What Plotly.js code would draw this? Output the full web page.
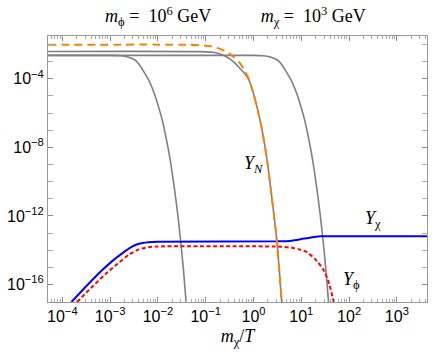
<!DOCTYPE html>
<html>
<head>
<meta charset="utf-8">
<script src="https://cdn.plot.ly/plotly-3.0.1.min.js"></script>
<style>
  html, body { margin: 0; padding: 0; background: #fff; }
  #plot { width: 436px; height: 357px; }
</style>
</head>
<body>
<div id="plot"></div>
<script>
// values, stored as log10(m_chi/T) and log10(Y)
const grayLeftLogX  = [-4.3, -3.0, -2.78, -2.63, -2.48, -2.38, -2.28, -2.18, -2.08, -1.98, -1.91, -1.83, -1.74, -1.66, -1.59, -1.53, -1.47, -1.41];
const grayLeftLogY  = [-2.63, -2.63, -2.65, -2.72, -2.9, -3.2, -3.65, -4.15, -4.83, -5.7, -6.4, -7.43, -8.78, -10.3, -11.8, -13.3, -15.0, -17.04];

const grayMidLogX   = [-4.3, -1.1, -0.85, -0.7, -0.58, -0.49, -0.4, -0.28, -0.2, -0.1, 0.0, 0.09, 0.18, 0.28, 0.36, 0.43, 0.49, 0.54, 0.59];
const grayMidLogY   = [-2.4, -2.41, -2.45, -2.55, -2.7, -2.85, -3.05, -3.4, -3.65, -4.05, -4.87, -5.84, -7.0, -8.66, -10.4, -12.0, -13.5, -15.2, -17.04];

const grayRightLogX = [-4.3, 0.0, 0.2, 0.35, 0.5, 0.6, 0.7, 0.8, 0.9, 1.0, 1.07, 1.15, 1.24, 1.32, 1.39, 1.45, 1.51, 1.57];
const grayRightLogY = [-2.63, -2.63, -2.65, -2.72, -2.9, -3.2, -3.65, -4.15, -4.83, -5.7, -6.4, -7.43, -8.78, -10.3, -11.8, -13.3, -15.0, -17.04];

const yNLogX   = [-4.3, -1.4, -1.1, -0.9, -0.7, -0.58, -0.49, -0.4, -0.28, -0.2, -0.1, 0.0, 0.09, 0.18, 0.28, 0.36, 0.43, 0.49, 0.54, 0.59];
const yNLogY   = [-2.01, -2.01, -2.04, -2.1, -2.25, -2.4, -2.55, -2.75, -3.1, -3.45, -4.0, -4.87, -5.84, -7.0, -8.66, -10.4, -12.0, -13.5, -15.2, -17.04];

const yChiLogX = [-3.81, -3.5, -3.17, -2.95, -2.75, -2.55, -2.4, -2.2, -2.0, 0.5, 0.8, 1.0, 1.2, 1.4, 1.6, 3.63];
const yChiLogY = [-17.02, -16.1, -15.17, -14.62, -14.18, -13.8, -13.62, -13.53, -13.5, -13.48, -13.44, -13.35, -13.25, -13.19, -13.18, -13.18];

const yPhiLogX = [-3.69, -3.4, -3.1, -2.85, -2.6, -2.4, -2.2, -2.0, 0.4, 0.6, 0.8, 0.95, 1.11, 1.28, 1.45, 1.56, 1.68];
const yPhiLogY = [-17.02, -16.2, -15.4, -14.8, -14.25, -13.95, -13.82, -13.78, -13.78, -13.8, -13.86, -13.95, -14.1, -14.49, -15.07, -15.75, -17.02];

const xTickExps = [-4, -3, -2, -1, 0, 1, 2, 3];
const yTickExps = [-16, -12, -8, -4];

const pow10 = (arr) => arr.map((v) => Math.pow(10, v));

function curve(lx, ly, color, width, dash) {
  return {
    x: pow10(lx),
    y: pow10(ly),
    mode: "lines",
    line: { color: color, width: width, dash: dash, shape: "spline", smoothing: 0.6 },
    hoverinfo: "skip",
    showlegend: false,
  };
}

const traces = [
  curve(grayLeftLogX, grayLeftLogY, "#808080", 1.6, "solid"),
  curve(grayMidLogX, grayMidLogY, "#808080", 1.6, "solid"),
  curve(grayRightLogX, grayRightLogY, "#808080", 1.6, "solid"),
  curve(yChiLogX, yChiLogY, "#0000ff", 2, "solid"),
  curve(yPhiLogX, yPhiLogY, "#ff0000", 2, "4px,2.5px"),
  curve(yNLogX, yNLogY, "#ff8000", 2, "8px,5px"),
];

const serif = "Liberation Serif";
const sans = "Liberation Sans";
const sp = (n) => "&nbsp;".repeat(n);

const layout = {
  width: 436,
  height: 357,
  margin: { l: 48, r: 9, t: 36, b: 55 },
  paper_bgcolor: "#fff",
  plot_bgcolor: "#fff",
  showlegend: false,
  title: {
    text: "<i>m</i><sub>ϕ</sub>" + sp(1) + "=" + sp(2) + "10<sup>6</sup>" + sp(1) + "GeV" + sp(11) +
          "<i>m</i><sub>χ</sub>" + sp(1) + "=" + sp(2) + "10<sup>3</sup>" + sp(1) + "GeV",
    font: { family: serif, size: 18, color: "#000" },
    x: 0.54,
    xanchor: "center",
    y: 0.955,
    yanchor: "middle",
  },
  xaxis: {
    type: "log",
    range: [-4.3, 3.63],
    tickmode: "array",
    tickvals: pow10(xTickExps),
    ticktext: xTickExps.map((e) => "10<sup>" + (e < 0 ? "−" + (-e) : e) + "</sup>"),
    ticks: "inside",
    ticklen: 5,
    tickcolor: "#888",
    tickfont: { family: sans, size: 16, color: "#000" },
    showgrid: false,
    zeroline: false,
    showline: true,
    linecolor: "#999",
    linewidth: 1,
    mirror: "ticks",
    minor: { dtick: "D1", ticks: "inside", ticklen: 3, tickcolor: "#aaa", showgrid: false },
    title: { text: "<i>m</i><sub>χ</sub>/<i>T</i>", font: { family: serif, size: 18, color: "#000" }, standoff: 5 },
  },
  yaxis: {
    type: "log",
    range: [-17.02, -1.5],
    tickmode: "array",
    tickvals: pow10(yTickExps),
    ticktext: yTickExps.map((e) => "10<sup>−" + (-e) + "</sup>"),
    ticks: "inside",
    ticklen: 5,
    tickcolor: "#888",
    tickfont: { family: sans, size: 16, color: "#000" },
    showgrid: false,
    zeroline: false,
    showline: true,
    linecolor: "#999",
    linewidth: 1,
    mirror: "ticks",
    minor: { dtick: 1, ticks: "inside", ticklen: 5, tickcolor: "#aaa", showgrid: false },
  },
  annotations: [
    { x: 0.0, y: -8.97, text: "<i>Y</i><sub><i>N</i></sub>", showarrow: false, font: { family: serif, size: 18, color: "#000" } },
    { x: 2.5, y: -12.2, text: "<i>Y</i><sub>χ</sub>", showarrow: false, font: { family: serif, size: 18, color: "#000" } },
    { x: 2.04, y: -15.75, text: "<i>Y</i><sub>ϕ</sub>", showarrow: false, font: { family: serif, size: 18, color: "#000" } },
  ],
};

Plotly.newPlot("plot", traces, layout, { staticPlot: true, displayModeBar: false });
</script>
</body>
</html>
